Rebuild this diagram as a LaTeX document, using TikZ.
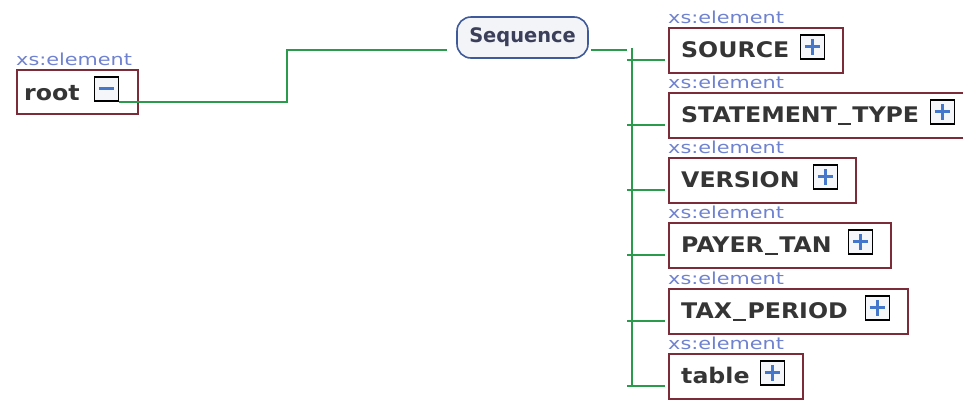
\documentclass[tikz,border=0pt]{standalone}
\usepackage{fontspec}
\newfontfamily\elfont[FakeStretch=1.1]{DejaVu Sans}
\newfontfamily\lblfont[FakeStretch=1.26]{DejaVu Sans}
\newfontfamily\seqfont[FakeStretch=0.97]{DejaVu Sans}
\definecolor{boxred}{HTML}{7B2C38}
\definecolor{lgreen}{HTML}{2A9A4C}
\definecolor{lblblue}{HTML}{6F82D0}
\definecolor{txtgray}{HTML}{353535}
\definecolor{plusblue}{HTML}{4476CC}
\definecolor{iconbg}{HTML}{F4F6FA}
\definecolor{seqblue}{HTML}{3F5A9A}
\definecolor{seqfill}{HTML}{F3F4F8}
\definecolor{seqtext}{HTML}{3B3F5A}
\newcommand{\us}{\kern0.06em\rule[-0.13em]{0.6em}{0.11em}\kern0.06em}
\tikzset{
  elbox/.style={draw=boxred, line width=1.8pt, anchor=north west, minimum height=45pt, inner sep=0pt},
  eltext/.style={anchor=base west, font=\elfont\bfseries\fontsize{21.5}{21.5}\selectfont, text=txtgray, inner sep=0pt},
  lbl/.style={anchor=base west, font=\lblfont\fontsize{16.5}{16.5}\selectfont, text=lblblue, inner sep=0pt},
  iconbox/.style={draw=black, line width=1.6pt, fill=iconbg, minimum size=24pt, inner sep=0pt, anchor=north west},
  conn/.style={draw=lgreen, line width=1.8pt},
  seqbox/.style={draw=seqblue, line width=1.6pt, fill=seqfill, rounded corners=14pt, minimum width=131pt, minimum height=41pt, inner sep=0pt, font=\seqfont\bfseries\fontsize{20}{20}\selectfont, text=seqtext}
}
\newcommand{\plussign}[1]{%
  \draw[plusblue, line width=3pt] ([xshift=5pt]#1.west) -- ([xshift=-5pt]#1.east);
  \draw[plusblue, line width=3pt] ([yshift=-5pt]#1.north) -- ([yshift=5pt]#1.south);}
\newcommand{\minussign}[1]{%
  \draw[plusblue, line width=3pt] ([xshift=5pt]#1.west) -- ([xshift=-5pt]#1.east);}
\begin{document}
\begin{tikzpicture}[x=1pt, y=-1pt]
\useasboundingbox (0,0) rectangle (963,400);
% root
\node[elbox, minimum width=121pt, minimum height=44pt] (root) at (16,69) {};
\node[lbl] (rootl) at ([yshift=4pt]root.north west) {xs:element};
\node[eltext] (roott) at ([xshift=8pt, yshift=-31pt]root.north west) {root};
\node[iconbox] (rooti) at ([xshift=-45pt, yshift=-7pt]root.north east) {};
\minussign{rooti}
% sequence
\node[seqbox] (seq) at (522.5,37.5) {Sequence};
% children
\foreach \n/\t/\w/\s in {src/27/174/SOURCE, stt/92/304/STATEMENT\us TYPE, ver/157/187/VERSION, pay/222/222/PAYER\us TAN, tax/288/239/TAX\us PERIOD, tab/353/134/table}{
  \node[elbox, minimum width=\w pt] (\n) at (668,\t) {};
  \node[lbl] (\n-l) at ([yshift=4pt]\n.north west) {xs:element};
  \node[eltext] (\n-t) at ([xshift=13pt, yshift=-30.5pt]\n.north west) {\s};
  \node[iconbox] (\n-i) at ([xshift=-44pt, yshift=-7pt]\n.north east) {};
  \plussign{\n-i}
  \coordinate (\n-b) at ([xshift=-3pt, yshift=-33pt]\n.north west);
}
% connectors
\coordinate (j1) at (287,50);
\draw[conn] (rooti.south east) -| (j1) -- ([xshift=-9pt]seq.west |- j1);
\coordinate (bustop) at (632,48);
\draw[conn] ([xshift=2pt]seq.east |- j1) -- ([xshift=-5pt]bustop |- j1);
\draw[conn] (bustop) -- (bustop |- tab-b);
\foreach \n in {src, stt, ver, pay, tax, tab}{
  \draw[conn] ([xshift=-5pt]bustop |- \n-b) -- (\n-b);
}
\end{tikzpicture}
\end{document}
